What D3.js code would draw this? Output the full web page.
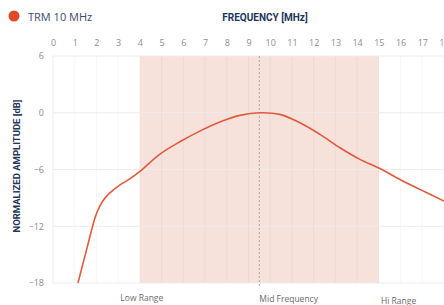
<!DOCTYPE html>
<html>
<head>
<meta charset="utf-8">
<script src="https://cdn.jsdelivr.net/npm/d3@7"></script>
<style>
  body { margin: 0; background: #fff; }
  svg { display: block; }
  text { font-family: "Open Sans", sans-serif; }
  .title { font-family: Roboto, sans-serif; font-weight: 700; fill: #22365a; }
</style>
</head>
<body>
<div id="chart"></div>
<script>
// frequency response of the TRM 10 MHz probe

var freqs = [1.15, 1.6, 1.95, 2.15, 2.35, 2.61, 3.07, 3.53, 4.0, 4.91, 5.84, 6.76, 7.68, 8.6, 9.5, 10.44, 11.37, 12.29, 13.21, 14.13, 15.05, 15.97, 16.89, 18.0];
var amps  = [-18, -14.0, -11.0, -9.9, -9.15, -8.5, -7.65, -7.0, -6.2, -4.4, -3.07, -1.94, -0.98, -0.28, 0, -0.17, -1.06, -2.29, -3.7, -4.93, -5.9, -7.05, -8.1, -9.34];

var xTicks = [0, 1, 2, 3, 4, 5, 6, 7, 8, 9, 10, 11, 12, 13, 14, 15, 16, 17, 18];
var yTicks = [6, 0, -6, -12, -18];

var bandStart = 4, bandEnd = 15, midFreq = 9.5;
var bandLabels = ["Low Range", "Mid Frequency", "Hi Range"];
var bandLabelX = [3.1, 9.5, 15.1];
var seriesName = "TRM 10 MHz";

var svgWidth = 444;
var svgHeight = 305;

var margin = {top: 56, right: 0, bottom: 22, left: 53};
var width = svgWidth - margin.left - margin.right;
var height = svgHeight - margin.top - margin.bottom;

var svg = d3.select("#chart")
  .append("svg")
  .attr("width", svgWidth)
  .attr("height", svgHeight);

var chartGroup = svg.append("g")
  .attr("transform", `translate(${margin.left}, ${margin.top})`);

var xScale = d3.scaleLinear().domain([0, 18]).range([0, width]);
var yScale = d3.scaleLinear().domain([-18, 6]).range([height, 0]);

// shaded band
chartGroup.append("rect")
  .attr("x", xScale(bandStart))
  .attr("y", 0)
  .attr("width", xScale(bandEnd) - xScale(bandStart))
  .attr("height", height)
  .attr("fill", "#f6e1db");

// grid
chartGroup.append("g")
  .selectAll("line")
  .data(xTicks.slice(1))
  .enter()
  .append("line")
  .attr("x1", d => xScale(d)).attr("x2", d => xScale(d))
  .attr("y1", 0).attr("y2", height)
  .attr("stroke", "#000")
  .attr("stroke-opacity", 0.035);

chartGroup.append("g")
  .selectAll("line")
  .data(yTicks)
  .enter()
  .append("line")
  .attr("x1", 0).attr("x2", width)
  .attr("y1", d => yScale(d)).attr("y2", d => yScale(d))
  .attr("stroke", "#ececec");

chartGroup.append("line")
  .attr("x1", 0).attr("x2", 0)
  .attr("y1", 0).attr("y2", height)
  .attr("stroke", "#ececec");

// axes
var topAxis = d3.axisTop(xScale).tickValues(xTicks).tickSize(0).tickPadding(10);
var gx = chartGroup.append("g").call(topAxis);
gx.select(".domain").remove();
gx.selectAll("text").attr("fill", "#8d8d8d").attr("font-size", "9px")
  .style("font-family", "'Open Sans', sans-serif");

var leftAxis = d3.axisLeft(yScale).tickValues(yTicks).tickSize(0).tickPadding(9);
var gy = chartGroup.append("g").call(leftAxis);
gy.select(".domain").remove();
gy.selectAll("text").attr("fill", "#8d8d8d").attr("font-size", "9px")
  .style("font-family", "'Open Sans', sans-serif");

// mid frequency marker
chartGroup.append("line")
  .attr("x1", xScale(midFreq)).attr("x2", xScale(midFreq))
  .attr("y1", 0).attr("y2", height + 4)
  .attr("stroke", "#a9a9a9")
  .attr("stroke-dasharray", "2,2");

// response curve
var line = d3.line()
  .x(function(d, i) { return xScale(freqs[i]); })
  .y(function(d, i) { return yScale(amps[i]); })
  .curve(d3.curveCatmullRom.alpha(0.5));

chartGroup.append("path")
  .datum(freqs)
  .attr("d", line)
  .attr("fill", "none")
  .attr("stroke", "#e25a3c")
  .attr("stroke-width", 1.6);

// band labels
chartGroup.append("g")
  .selectAll("text")
  .data(bandLabels)
  .enter()
  .append("text")
  .attr("x", (d, i) => xScale(bandLabelX[i]))
  .attr("y", (d, i) => height + 18 + i * 1.3)
  .attr("font-size", "8.5px")
  .attr("fill", "#6b6b6b")
  .text(d => d);

// titles
svg.append("text")
  .attr("class", "title")
  .attr("x", 265)
  .attr("y", 21)
  .attr("text-anchor", "middle")
  .attr("font-size", "10px")
  .text("FREQUENCY [MHz]");

svg.append("text")
  .attr("class", "title")
  .attr("transform", "rotate(-90)")
  .attr("x", -166)
  .attr("y", 20)
  .attr("text-anchor", "middle")
  .attr("font-size", "9.5px")
  .text("NORMALIZED AMPLITUDE [dB]");

// legend
svg.append("circle")
  .attr("cx", 14).attr("cy", 16).attr("r", 5.5)
  .attr("fill", "#e0482a");

svg.append("text")
  .attr("x", 28).attr("y", 20.5)
  .attr("font-size", "11px")
  .attr("fill", "#3a4a6b")
  .text(seriesName);
</script>
</body>
</html>
